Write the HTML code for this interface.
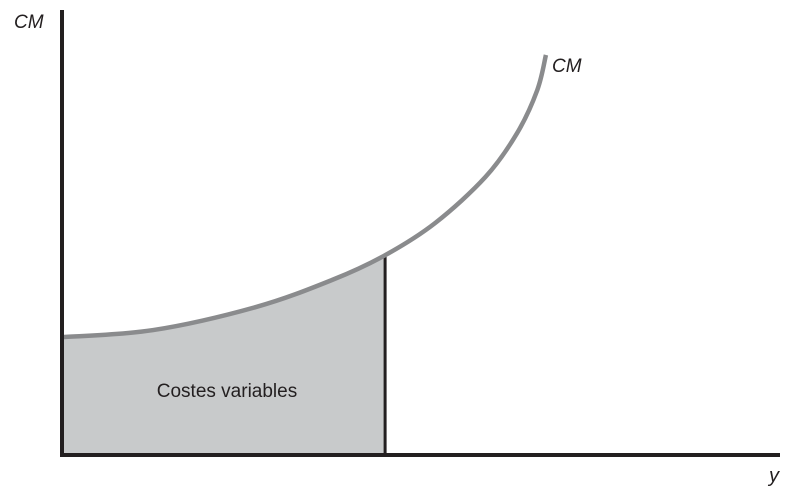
<!DOCTYPE html>
<html><head><meta charset="utf-8"><style>
html,body{margin:0;padding:0;background:#fff}
svg{display:block}
text{font-family:"Liberation Sans",sans-serif;fill:#231f20}
</style></head><body>
<svg id="chart" width="798" height="496" viewBox="0 0 798 496">
<path id="area" fill="#c8cacb"/>
<line id="vline" stroke="#231f20" stroke-width="3"/>
<path id="curve" fill="none" stroke="#8a8b8d" stroke-width="4.5"/>
<line x1="62" y1="10" x2="62" y2="456" stroke="#231f20" stroke-width="4"/>
<line x1="60" y1="455" x2="780" y2="455" stroke="#231f20" stroke-width="4"/>
<text x="14" y="28" font-size="19" font-style="italic">CM</text>
<text x="769" y="482" font-size="20" font-style="italic">y</text>
<text x="552" y="72" font-size="19" font-style="italic">CM</text>
<text x="227" y="397" font-size="19" text-anchor="middle">Costes variables</text>
</svg>
<script>
const curveX=[0,12.7,27,37.6,45,52,59,63.4,66.2,67.4];
const curveY=[26.6,28.2,33.4,39.5,45.1,52.4,62.8,72.7,82.4,90.3];
const outputLevel=45;
function xs(v){return 62+v*7.18;}
function ys(v){return 455-v*4.43;}
function smooth(pts){
  let d='M'+pts[0][0]+','+pts[0][1];
  for(let i=0;i<pts.length-1;i++){
    const p0=pts[Math.max(0,i-1)],p1=pts[i],p2=pts[i+1],p3=pts[Math.min(pts.length-1,i+2)];
    const c1=[p1[0]+(p2[0]-p0[0])/6,p1[1]+(p2[1]-p0[1])/6];
    const c2=[p2[0]-(p3[0]-p1[0])/6,p2[1]-(p3[1]-p1[1])/6];
    d+=' C'+c1[0]+','+c1[1]+' '+c2[0]+','+c2[1]+' '+p2[0]+','+p2[1];
  }
  return d;
}
const pts=curveX.map((x,i)=>[xs(x),ys(curveY[i])]);
document.getElementById('curve').setAttribute('d',smooth(pts));
const sub=[];
for(let i=0;i<curveX.length;i++){ if(curveX[i]<=outputLevel) sub.push(pts[i]); }
let yAt=ys(curveY[0]);
for(let i=0;i<curveX.length-1;i++){
  if(outputLevel>=curveX[i]&&outputLevel<=curveX[i+1]){
    const t=(outputLevel-curveX[i])/(curveX[i+1]-curveX[i]);
    yAt=ys(curveY[i]+t*(curveY[i+1]-curveY[i]));
  }
}
if(sub[sub.length-1][0]<xs(outputLevel)) sub.push([xs(outputLevel),yAt]);
document.getElementById('area').setAttribute('d',smooth(sub)+' L'+xs(outputLevel)+','+ys(0)+' L'+xs(0)+','+ys(0)+' Z');
const vl=document.getElementById('vline');
vl.setAttribute('x1',xs(outputLevel));vl.setAttribute('x2',xs(outputLevel));
vl.setAttribute('y1',yAt);vl.setAttribute('y2',ys(0));
</script>
</body></html>
